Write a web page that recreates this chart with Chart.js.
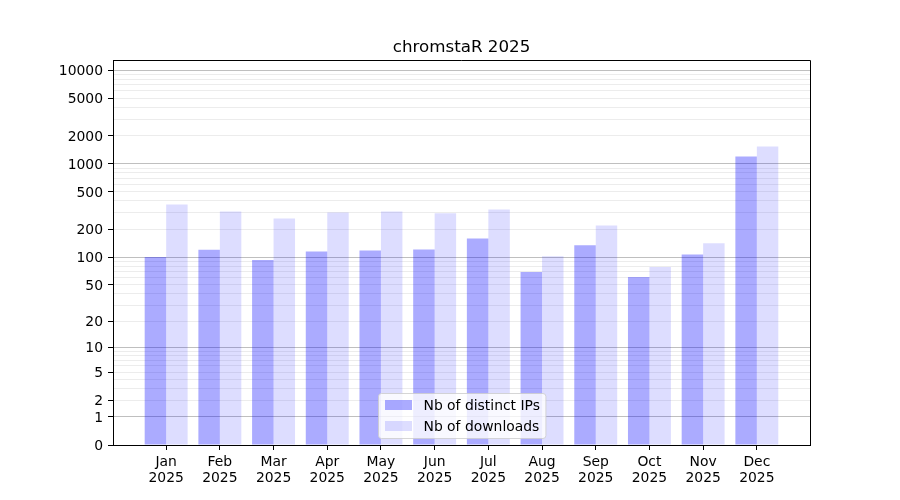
<!DOCTYPE html>
<html>
<head>
<meta charset="utf-8">
<title>chromstaR 2025</title>
<script src="https://cdn.jsdelivr.net/npm/chart.js@4.4.1/dist/chart.umd.min.js"></script>
<style>
  html, body { margin: 0; padding: 0; background: #ffffff; }
  #myChart { display: block; }
</style>
</head>
<body>
<canvas id="myChart" width="900" height="500"></canvas>
<script>
// DATA
const chartTitle = 'chromstaR 2025';
const months = ['Jan', 'Feb', 'Mar', 'Apr', 'May', 'Jun', 'Jul', 'Aug', 'Sep', 'Oct', 'Nov', 'Dec'];
const yearLabel = '2025';
const distinctIPs = [100, 120, 93, 115, 118, 121, 159, 69, 134, 61, 107, 1196];
const downloads = [368, 309, 260, 302, 309, 295, 325, 102, 219, 78, 141, 1528];
const yTickLabels = [0, 1, 2, 5, 10, 20, 50, 100, 200, 500, 1000, 2000, 5000, 10000];
const yMajorGrid = [1, 10, 100, 1000, 10000];
const yMinorSteps = [2, 3, 4, 5, 6, 7, 8, 9];
const yDecades = [1, 10, 100, 1000];
const yMaxValue = 12800;

// the y axis is log10(1 + value)
const toAxis = (v) => Math.log10(1 + v);

let yGridValues = [0].concat(yMajorGrid);
yDecades.forEach((d) => {
    yMinorSteps.forEach((s) => yGridValues.push(d * s));
});
yGridValues.sort((a, b) => a - b);

const FONT = 'DejaVu Sans';
const TICK_PX = 13.9;
const TITLE_PX = 16.7;

Chart.defaults.font.family = FONT;
Chart.defaults.color = '#000000';

// PLUGINS

const framePlugin = {
    id: 'frame',
    afterDraw(chart) {
        const { ctx, chartArea } = chart;
        ctx.save();
        ctx.strokeStyle = '#000000';
        ctx.lineWidth = 1;
        ctx.beginPath();
        ctx.moveTo(chartArea.left, chartArea.top + 0.5);
        ctx.lineTo(chartArea.right + 0.5, chartArea.top + 0.5);
        ctx.lineTo(chartArea.right + 0.5, chartArea.bottom);
        ctx.stroke();

        // title centred over the axes
        ctx.font = TITLE_PX + 'px "' + FONT + '"';
        ctx.fillStyle = '#000000';
        ctx.textAlign = 'center';
        ctx.textBaseline = 'alphabetic';
        ctx.fillText(chartTitle, (chartArea.left + chartArea.right) / 2, chartArea.top - 8);
        ctx.restore();
    }
};

const insideLegend = {
    id: 'insideLegend',
    afterDraw(chart) {
        const { ctx, chartArea } = chart;
        const sets = chart.data.datasets;
        ctx.save();
        ctx.font = TICK_PX + 'px "' + FONT + '"';
        let textW = 0;
        sets.forEach((ds) => { textW = Math.max(textW, ctx.measureText(ds.label).width); });
        const rowH = 21;
        const boxW = 45 + textW + 6;
        const boxH = 6 + rowH * (sets.length - 1) + 10 + 8;
        const cx = (chartArea.left + chartArea.right) / 2;
        const x0 = Math.round(cx - boxW / 2) + 0.5;
        const y0 = Math.round(chartArea.bottom - 7 - boxH) + 0.5;

        ctx.beginPath();
        ctx.roundRect(x0, y0, boxW, boxH, 3);
        ctx.fillStyle = 'rgba(255,255,255,0.8)';
        ctx.fill();
        ctx.strokeStyle = 'rgba(204,204,204,0.8)';
        ctx.lineWidth = 1;
        ctx.stroke();

        sets.forEach((ds, i) => {
            const rowY = Math.round(y0 + 6 + i * rowH);
            ctx.fillStyle = ds.backgroundColor;
            ctx.fillRect(Math.round(x0 + 6), rowY, 27, 10);
            ctx.fillStyle = '#000000';
            ctx.textBaseline = 'middle';
            ctx.textAlign = 'left';
            ctx.fillText(ds.label, x0 + 45, rowY + 6);
        });
        ctx.restore();
    }
};

// CHART

const config = {
    type: 'bar',
    data: {
        datasets: [{
            label: 'Nb of distinct IPs',
            data: distinctIPs.map((v, i) => ({ x: i, y: toAxis(v) })),
            backgroundColor: 'rgba(0,0,255,0.33)',
            borderWidth: 0,
            categoryPercentage: 0.8,
            barPercentage: 1.0
        }, {
            label: 'Nb of downloads',
            data: downloads.map((v, i) => ({ x: i, y: toAxis(v) })),
            backgroundColor: 'rgba(0,0,255,0.133)',
            borderWidth: 0,
            categoryPercentage: 0.8,
            barPercentage: 1.0
        }]
    },
    options: {
        responsive: false,
        animation: false,
        devicePixelRatio: 1,
        layout: { padding: { top: 60, right: 90, bottom: 0, left: 0 } },
        plugins: {
            legend: { display: false },
            tooltip: { enabled: false },
            title: { display: false }
        },
        scales: {
            x: {
                type: 'linear',
                min: -0.99,
                max: 11.99,
                offset: false,
                grid: {
                    offset: false,
                    drawOnChartArea: false,
                    drawTicks: true,
                    tickLength: 5,
                    tickColor: '#000000'
                },
                border: { display: true, color: '#000000', width: 1 },
                ticks: {
                    autoSkip: false,
                    maxRotation: 0,
                    padding: 4,
                    color: '#000000',
                    font: { family: FONT, size: TICK_PX, lineHeight: 1.15 },
                    callback: (v) => [months[v], yearLabel]
                },
                afterBuildTicks: (scale) => {
                    scale.ticks = months.map((m, i) => ({ value: i }));
                },
                afterFit: (scale) => { scale.height = 55; }
            },
            y: {
                type: 'linear',
                min: 0,
                max: toAxis(yMaxValue),
                grid: {
                    drawTicks: true,
                    tickLength: 5,
                    color: (c) => {
                        const v = yGridValues[c.index];
                        if (v === 0) return 'rgba(0,0,0,0)';
                        return yMajorGrid.includes(v) ? 'rgba(128,128,128,0.5)' : 'rgba(128,128,128,0.15)';
                    },
                    tickColor: (c) => yTickLabels.includes(yGridValues[c.index]) ? '#000000' : 'rgba(0,0,0,0)'
                },
                border: { display: true, color: '#000000', width: 1 },
                ticks: {
                    autoSkip: false,
                    padding: 5,
                    labelOffset: 1.5,
                    color: '#000000',
                    font: { family: FONT, size: TICK_PX },
                    callback: (value, index) => {
                        const v = yGridValues[index];
                        return yTickLabels.includes(v) ? String(v) : '';
                    }
                },
                afterBuildTicks: (scale) => {
                    scale.ticks = yGridValues.map((v) => ({ value: toAxis(v) }));
                },
                afterFit: (scale) => { scale.width = 113; }
            }
        }
    },
    plugins: [framePlugin, insideLegend]
};

const myChart = new Chart(document.getElementById('myChart'), config);
</script>
</body>
</html>
